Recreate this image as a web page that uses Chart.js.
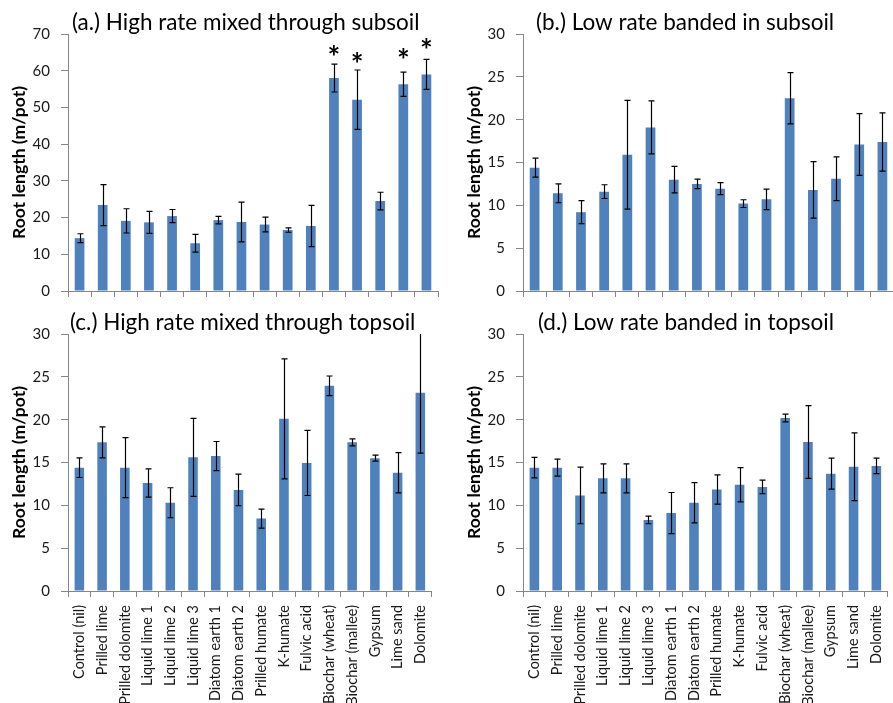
<!DOCTYPE html>
<html>
<head>
<meta charset="utf-8">
<script src="https://cdn.jsdelivr.net/npm/chart.js@4.4.1/dist/chart.umd.min.js"></script>
<style>
  html, body { margin: 0; padding: 0; background: #fff; overflow: hidden; }
  body { width: 893px; height: 703px; position: relative; }
  canvas { position: absolute; }
</style>
</head>
<body>
<canvas id="chartA" width="446" height="300" style="left:0;top:0"></canvas>
<canvas id="chartB" width="447" height="300" style="left:455px;top:0"></canvas>
<canvas id="chartC" width="446" height="420" style="left:0;top:300px"></canvas>
<canvas id="chartD" width="447" height="420" style="left:455px;top:300px"></canvas>
<script>
// Treatments (x axis)
const categories = [
    'Control (nil)', 'Prilled lime', 'Prilled dolomite', 'Liquid lime 1', 'Liquid lime 2',
    'Liquid lime 3', 'Diatom earth 1', 'Diatom earth 2', 'Prilled humate', 'K-humate',
    'Fulvic acid', 'Biochar (wheat)', 'Biochar (mallee)', 'Gypsum', 'Lime sand', 'Dolomite'
];

const panelTitles = [
    '(a.) High rate mixed through subsoil',
    '(b.) Low rate banded in subsoil',
    '(c.) High rate mixed through topsoil',
    '(d.) Low rate banded in topsoil'
];

// Root length (m/pot), mean and error
const highSubsoil = [14.4, 23.4, 19.1, 18.7, 20.4, 13.0, 19.3, 18.8, 18.1, 16.6, 17.7, 58.0, 52.1, 24.5, 56.3, 59.0];
const highSubsoilErr = [1.2, 5.6, 3.3, 3.0, 1.8, 2.4, 1.0, 5.4, 2.0, 0.6, 5.6, 3.8, 8.1, 2.4, 3.3, 4.1];
const highSubsoilStars = [null, null, null, null, null, null, null, null, null, null, null, 65.5, 63.7, null, 64.6, 67.3];

const lowSubsoil = [14.4, 11.4, 9.2, 11.6, 15.9, 19.1, 13.0, 12.5, 11.95, 10.2, 10.7, 22.5, 11.8, 13.1, 17.1, 17.4];
const lowSubsoilErr = [1.1, 1.1, 1.35, 0.8, 6.35, 3.1, 1.55, 0.55, 0.7, 0.45, 1.2, 3.0, 3.3, 2.55, 3.6, 3.4];

const highTopsoil = [14.4, 17.35, 14.4, 12.6, 10.3, 15.6, 15.75, 11.8, 8.45, 20.1, 14.95, 23.95, 17.35, 15.5, 13.8, 23.15];
const highTopsoilErr = [1.15, 1.8, 3.5, 1.65, 1.75, 4.55, 1.7, 1.85, 1.1, 7.0, 3.8, 1.15, 0.4, 0.35, 2.35, 7.05];

const lowTopsoil = [14.4, 14.4, 11.15, 13.15, 13.15, 8.3, 9.1, 10.3, 11.85, 12.4, 12.15, 20.2, 17.4, 13.7, 14.5, 14.6];
const lowTopsoilErr = [1.2, 1.0, 3.3, 1.7, 1.7, 0.45, 2.4, 2.35, 1.7, 2.0, 0.8, 0.45, 4.25, 1.8, 3.95, 0.9];

// y axis ticks per panel
const yMax = [70, 30, 30, 30];
const yStep = [10, 5, 5, 5];

const BAR_COLOR = '#4F81BD';
const AXIS_COLOR = '#868686';
const TEXT_COLOR = '#1a1a1a';
const FONT = 'Lato, "Noto Sans", sans-serif';

Chart.defaults.font.family = FONT;

// error bars + significance stars
const errorBarPlugin = {
    id: 'errorBars',
    afterDatasetsDraw(chart) {
        const ds = chart.data.datasets[0];
        const meta = chart.getDatasetMeta(0);
        const y = chart.scales.y;
        const area = chart.chartArea;
        const ctx = chart.ctx;

        ctx.save();
        ctx.beginPath();
        ctx.rect(area.left, area.top, area.right - area.left, area.bottom - area.top);
        ctx.clip();
        ctx.strokeStyle = '#000';
        ctx.lineWidth = 1.2;
        meta.data.forEach((bar, i) => {
            const v = ds.data[i];
            const e = ds.errors[i];
            const x = Math.round(bar.x) + 0.5;
            const top = y.getPixelForValue(v + e);
            const bot = y.getPixelForValue(v - e);
            ctx.beginPath();
            ctx.moveTo(x, top); ctx.lineTo(x, bot);
            ctx.moveTo(x - 3, top); ctx.lineTo(x + 3, top);
            ctx.moveTo(x - 3, bot); ctx.lineTo(x + 3, bot);
            ctx.stroke();
        });
        ctx.restore();

        if (!ds.stars) return;
        ctx.save();
        ctx.fillStyle = '#000';
        ctx.font = 'bold 30px ' + FONT;
        ctx.textAlign = 'center';
        ctx.textBaseline = 'alphabetic';
        const m = ctx.measureText('*');
        const shift = (m.actualBoundingBoxAscent - m.actualBoundingBoxDescent) / 2;
        meta.data.forEach((bar, i) => {
            const s = ds.stars[i];
            if (s == null) return;
            ctx.fillText('*', bar.x, y.getPixelForValue(s) + shift);
        });
        ctx.restore();
    }
};

function buildPanel(canvasId, idx, means, errs, stars, showLabels, titleDx) {
    const titlePlugin = {
        id: 'panelTitle',
        afterDraw(chart) {
            const ctx = chart.ctx;
            ctx.save();
            ctx.fillStyle = '#000';
            ctx.font = '22.5px ' + FONT;
            ctx.textAlign = 'left';
            ctx.textBaseline = 'middle';
            ctx.fillText(panelTitles[idx], chart.chartArea.left + titleDx, 23);
            ctx.restore();
        }
    };

    return new Chart(document.getElementById(canvasId), {
        type: 'bar',
        data: {
            labels: categories,
            datasets: [{
                data: means,
                errors: errs,
                stars: stars,
                backgroundColor: BAR_COLOR,
                borderWidth: 0,
                categoryPercentage: 1,
                barPercentage: 0.42
            }]
        },
        options: {
            responsive: false,
            animation: false,
            layout: { padding: { top: 34, right: 8, left: 0, bottom: 0 }, autoPadding: false },
            plugins: {
                legend: { display: false },
                tooltip: { enabled: false }
            },
            scales: {
                x: {
                    grid: { drawOnChartArea: false, drawTicks: true, tickLength: 6, color: AXIS_COLOR, offset: true },
                    border: { color: AXIS_COLOR },
                    ticks: {
                        display: showLabels,
                        autoSkip: false,
                        minRotation: 90,
                        maxRotation: 90,
                        padding: 8,
                        color: TEXT_COLOR,
                        font: { size: 14.5 }
                    },
                    afterFit(scale) { scale.height = showLabels ? 129 : 9; }
                },
                y: {
                    min: 0,
                    max: yMax[idx],
                    grid: { drawOnChartArea: false, drawTicks: true, tickLength: 7, color: AXIS_COLOR },
                    border: { color: AXIS_COLOR },
                    ticks: { stepSize: yStep[idx], padding: 11, color: TEXT_COLOR, font: { size: 15 } },
                    title: {
                        display: true,
                        text: 'Root length (m/pot)',
                        color: '#000',
                        font: { size: 17.5, weight: 'bold' },
                        padding: { top: 9, bottom: 0 }
                    },
                    afterFit(scale) {
                        scale.width = 68;
                        scale.paddingTop = 0;
                        scale.paddingBottom = 0;
                    }
                }
            }
        },
        plugins: [errorBarPlugin, titlePlugin]
    });
}

buildPanel('chartA', 0, highSubsoil, highSubsoilErr, highSubsoilStars, false, 4);
buildPanel('chartB', 1, lowSubsoil, lowSubsoilErr, null, false, 13);
buildPanel('chartC', 2, highTopsoil, highTopsoilErr, null, true, 2);
buildPanel('chartD', 3, lowTopsoil, lowTopsoilErr, null, true, 15);
</script>
</body>
</html>
